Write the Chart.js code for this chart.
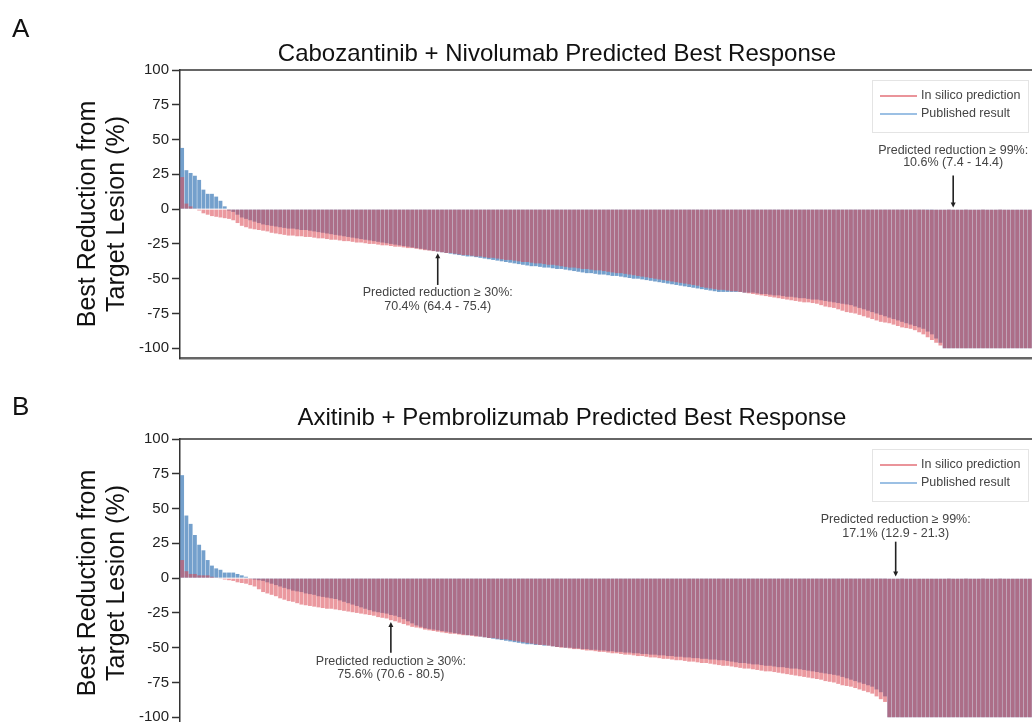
<!DOCTYPE html>
<html>
<head>
<meta charset="utf-8">
<script src="https://cdn.jsdelivr.net/npm/chart.js"></script>
<style>
body{margin:0;width:1032px;height:722px;overflow:hidden;background:#fff;position:relative;font-family:"Liberation Sans",Arial,sans-serif;}
.panel{position:absolute;left:0;width:1032px;height:370px;}
.letter{position:absolute;left:12px;font-size:26px;line-height:26px;color:#111;}
.title{position:absolute;width:700px;text-align:center;font-size:24px;line-height:24px;color:#111;white-space:nowrap;}
</style>
</head>
<body>

<div class="panel" style="top:0px"><canvas id="chartA" width="1032" height="370"></canvas></div>
<div class="panel" style="top:369px"><canvas id="chartB" width="1032" height="370"></canvas></div>

<div class="letter" style="top:15px">A</div>
<div class="title" style="top:41px;left:207px">Cabozantinib + Nivolumab Predicted Best Response</div>
<div class="letter" style="top:393px">B</div>
<div class="title" style="top:405px;left:222px">Axitinib + Pembrolizumab Predicted Best Response</div>

<script>

// Y axis tick labels
const yTicks = [100, 75, 50, 25, 0, -25, -50, -75, -100];

// Panel A - Cabozantinib + Nivolumab, in silico prediction (sorted)
const predA = [
23, 4, 2, 0.5, -1, -3, -4, -5, -5.5, -6,
-6.5, -7, -8, -10, -12, -13, -14, -14.5, -15, -15.5,
-16, -17, -17.5, -18, -18.5, -19, -19, -19.5, -19.5, -20,
-20, -20.5, -21, -21, -21.5, -22, -22, -22.5, -23, -23,
-23.5, -24, -24, -24.5, -25, -25, -25.5, -26, -26, -26.5,
-27, -27, -27.5, -28, -28, -28.5, -29, -29.5, -29.8, -30.2,
-30.5, -31, -31.5, -31.5, -32, -32.5, -33, -33, -33.5, -34,
-34, -34.5, -35, -35, -35.5, -36, -36.5, -36.5, -37, -37.5,
-38, -38, -38.5, -39, -39, -39.5, -40, -40, -40.5, -41,
-41.5, -42, -42, -42.5, -43, -43, -43.5, -44, -44, -44.5,
-45, -45.5, -46, -46, -46.5, -47, -47.5, -48, -48.5, -49,
-49.5, -50, -50.5, -51, -51.5, -52, -52.5, -53, -53.5, -54,
-54.5, -55, -56, -56.5, -57, -57.5, -58, -58, -58.5, -59,
-59, -59.5, -60, -60.5, -61, -61.5, -62, -62.5, -63, -63.5,
-64, -64.5, -65, -65.5, -66, -66.5, -67, -67, -67.5, -68,
-69, -70, -70.5, -71, -72, -73, -74, -74.5, -75, -76,
-77, -78, -79, -80, -81, -81.5, -82, -83, -84, -85,
-85.5, -86, -87, -88.5, -90, -92, -94, -96, -98, -100,
-100, -100, -100, -100, -100, -100, -100, -100, -100, -100,
-100, -100, -100, -100, -100, -100, -100, -100, -100, -100
];

// Panel A - published result
const pubA = [
44, 28, 26, 24, 21, 14, 11, 11, 9, 6,
2, -1, -2, -4, -6, -7, -8, -9, -10, -11,
-11.5, -12, -12.5, -13, -13.5, -14, -14, -14.5, -15, -15,
-15.5, -16, -16.5, -17, -17.5, -18, -18.5, -19, -19.5, -20,
-20.5, -21, -21.5, -22, -22.5, -23, -23.5, -24, -24.5, -25,
-25.5, -26, -26.5, -27, -27.5, -28, -28.5, -29, -29.5, -30,
-30.5, -31, -31.5, -32, -32.5, -33, -33.5, -34, -34, -34.5,
-35, -35.5, -36, -36.5, -37, -37.5, -38, -38.5, -39, -39.5,
-40, -40.5, -41, -41, -41.5, -42, -42, -42.5, -43, -43,
-43.5, -44, -44.5, -45, -45.5, -46, -46, -46.5, -47, -47,
-47.5, -48, -48, -48.5, -49, -49.5, -50, -50, -50.5, -51,
-51.5, -52, -52.5, -53, -53.5, -54, -54.5, -55, -55.5, -56,
-56.5, -57, -57.5, -58, -58.5, -59, -59.5, -59.5, -59.5, -59.5,
-59.5, -59.5, -60, -60, -60, -60.5, -61, -61, -61.5, -62,
-62, -62.5, -63, -63, -63.5, -64, -64, -64.5, -65, -65,
-65.5, -66, -66.5, -67, -67.5, -68, -68.5, -69, -70, -71,
-72, -73, -74, -75, -76, -77, -78, -79, -80, -81,
-82, -83, -84, -85, -86, -88, -90, -93, -96, -100,
-100, -100, -100, -100, -100, -100, -100, -100, -100, -100,
-100, -100, -100, -100, -100, -100, -100, -100, -100, -100
];

// Panel B - Axitinib + Pembrolizumab, in silico prediction (sorted)
const predB = [
13, 5, 3, 3, 2, 2, 2, 1, 0.5, -0.5,
-1, -1.5, -2, -3, -3.5, -4, -5, -6, -8, -10,
-11, -12, -13, -14.5, -15.5, -16.5, -17, -18, -19, -19.5,
-20, -20.5, -21, -21.5, -22, -22, -22.5, -23, -23.5, -24,
-24.5, -25, -25.5, -26, -26.5, -27, -28, -28.5, -29, -30.2,
-31, -32, -33, -34, -35, -35.5, -36, -37, -37.5, -38,
-38.5, -39, -39.5, -40, -40, -40.5, -41, -41, -41.5, -42,
-42, -42.5, -43, -43, -43.5, -44, -44, -44.5, -45, -45.5,
-46, -46.5, -47, -47.5, -48, -48, -48.5, -49, -49.5, -50,
-50, -50.5, -51, -51, -51.5, -52, -52, -52.5, -53, -53,
-53.5, -54, -54, -54.5, -55, -55, -55.5, -56, -56, -56.5,
-57, -57, -57.5, -58, -58, -58.5, -59, -59, -59.5, -60,
-60, -60.5, -61, -61, -61.5, -62, -62.5, -63, -63, -63.5,
-64, -64.5, -65, -65, -65.5, -66, -66.5, -67, -67, -67.5,
-68, -68.5, -69, -69.5, -70, -70.5, -71, -71.5, -72, -72.5,
-73, -74, -74.5, -75, -76, -77, -77.5, -78, -79, -80,
-81, -82, -83, -85, -87, -89, -100, -100, -100, -100,
-100, -100, -100, -100, -100, -100, -100, -100, -100, -100,
-100, -100, -100, -100, -100, -100, -100, -100, -100, -100,
-100, -100, -100, -100, -100, -100, -100, -100, -100, -100
];

// Panel B - published result
const pubB = [
74, 45, 39, 31, 24, 20, 13, 9, 7, 6,
4, 4, 4, 3, 2, 1, -0.5, -1, -1.5, -2,
-3, -4, -5, -6, -7, -8, -9, -9.5, -10, -11,
-11.5, -12, -13, -13.5, -14, -14.5, -15, -16, -17, -18,
-19, -20, -21, -22, -23, -24, -24.5, -25, -25.5, -26.5,
-27, -28, -29.5, -31, -32.5, -34, -35, -36, -36.5, -37,
-37.5, -38, -38.5, -39, -39.5, -40, -40.5, -41, -41, -41.5,
-42, -42.5, -43, -43.5, -44, -44.5, -45, -45.5, -46, -46.5,
-47, -47.5, -47.5, -48, -48, -48.5, -48.5, -49, -49.5, -49.5,
-50, -50, -50.5, -50.5, -51, -51, -51.5, -51.5, -52, -52,
-52.5, -52.5, -53, -53, -53.5, -53.5, -54, -54, -54.5, -54.5,
-55, -55, -55.5, -55.5, -56, -56, -56.5, -56.5, -57, -57,
-57.5, -57.5, -58, -58, -58.5, -58.5, -59, -59, -59.5, -60,
-60.5, -61, -61, -61.5, -62, -62, -62.5, -63, -63, -63.5,
-64, -64, -64.5, -65, -65, -65.5, -66, -66.5, -67, -67.5,
-68, -68.5, -69, -69.5, -70, -71, -72, -73, -74, -75,
-76, -77, -78, -80, -82, -85, -100, -100, -100, -100,
-100, -100, -100, -100, -100, -100, -100, -100, -100, -100,
-100, -100, -100, -100, -100, -100, -100, -100, -100, -100,
-100, -100, -100, -100, -100, -100, -100, -100, -100, -100
];

// one category per virtual patient
const patients = predA.map((v, i) => 'P' + (i + 1));

const seriesNames = ['In silico prediction', 'Published result'];

// Annotations: bar index, text lines, arrow and text heights in axis units
const notesA = [
  {index: 60, lines: ['Predicted reduction \u2265 30%:', '70.4% (64.4 - 75.4)'], arrowFrom: -54.5, arrowTo: -31.8, textAt: [-60.3, -70.1]},
  {index: 181, lines: ['Predicted reduction \u2265 99%:', '10.6% (7.4 - 14.4)'], arrowFrom: 24.2, arrowTo: 1.2, textAt: [41.8, 33.6]}
];
const notesB = [
  {index: 49, lines: ['Predicted reduction \u2265 30%:', '75.6% (70.6 - 80.5)'], arrowFrom: -53.6, arrowTo: -31.5, textAt: [-59.6, -69.3]},
  {index: 167.5, lines: ['Predicted reduction \u2265 99%:', '17.1% (12.9 - 21.3)'], arrowFrom: 26.2, arrowTo: 1.2, textAt: [41.8, 32.4]}
];

const FONT = '"Liberation Sans", Arial, sans-serif';
Chart.defaults.font.family = FONT;

const redFill = 'rgba(218, 70, 80, 0.55)';
const blueFill = 'rgba(62, 124, 184, 0.72)';


// top edge of the plot box
const frameTop = {
  id: 'frameTop',
  afterDraw(chart){
    let a = chart.chartArea;
    let ctx = chart.ctx;
    ctx.save();
    ctx.strokeStyle = '#333';
    ctx.lineWidth = 1.5;
    ctx.beginPath();
    ctx.moveTo(a.left, a.top);
    ctx.lineTo(a.right, a.top);
    ctx.stroke();
    ctx.restore();
  }
};


// legend box inside the plot, top right
const boxLegend = {
  id: 'boxLegend',
  afterDraw(chart){
    let a = chart.chartArea;
    let ctx = chart.ctx;
    let left = a.right - 160;
    let top = a.top + 10;
    let colors = ['rgba(222, 90, 100, 0.65)', 'rgba(90, 150, 210, 0.6)'];
    ctx.save();
    ctx.fillStyle = '#fff';
    ctx.fillRect(left, top, 156, 52);
    ctx.strokeStyle = '#e4e4e4';
    ctx.lineWidth = 1;
    ctx.strokeRect(left + 0.5, top + 0.5, 156, 52);
    ctx.font = '12.5px ' + FONT;
    ctx.textAlign = 'left';
    ctx.textBaseline = 'middle';
    seriesNames.forEach((name, k) => {
      let y = top + 16 + k * 18;
      ctx.strokeStyle = colors[k];
      ctx.lineWidth = 2;
      ctx.beginPath();
      ctx.moveTo(left + 8, y);
      ctx.lineTo(left + 45, y);
      ctx.stroke();
      ctx.fillStyle = '#444';
      ctx.fillText(name, left + 49, y);
    });
    ctx.restore();
  }
};


// arrows with text
const notesPlugin = {
  id: 'notes',
  afterDraw(chart, args, opts){
    let ctx = chart.ctx;
    let xs = chart.scales.x;
    let ys = chart.scales.y;
    ctx.save();
    opts.items.forEach(n => {
      let x = xs.getPixelForValue(n.index);
      let y1 = ys.getPixelForValue(n.arrowFrom);
      let y2 = ys.getPixelForValue(n.arrowTo);
      let dir = y2 > y1 ? 1 : -1;
      ctx.strokeStyle = '#222';
      ctx.fillStyle = '#222';
      ctx.lineWidth = 1.6;
      ctx.beginPath();
      ctx.moveTo(x, y1);
      ctx.lineTo(x, y2 - dir * 3);
      ctx.stroke();
      ctx.beginPath();
      ctx.moveTo(x, y2);
      ctx.lineTo(x - 2.5, y2 - dir * 5);
      ctx.lineTo(x + 2.5, y2 - dir * 5);
      ctx.closePath();
      ctx.fill();
      ctx.font = '12.5px ' + FONT;
      ctx.fillStyle = '#444';
      ctx.textAlign = 'center';
      ctx.textBaseline = 'middle';
      n.lines.forEach((t, k) => ctx.fillText(t, x, ys.getPixelForValue(n.textAt[k])));
    });
    ctx.restore();
  }
};


function makeChart(id, pred, pub, notes){

  let ctx = document.getElementById(id);

  return new Chart(ctx, {

    type: 'bar',

    data: {
      labels: patients,
      datasets: [
        {label: seriesNames[0], data: pred, backgroundColor: redFill, grouped: false, barPercentage: 0.9, categoryPercentage: 1},
        {label: seriesNames[1], data: pub, backgroundColor: blueFill, grouped: false, barPercentage: 0.9, categoryPercentage: 1}
      ]
    },

    options: {
      responsive: false,
      animation: false,
      layout: {padding: {left: 72, top: 70, right: 0, bottom: 12}},
      plugins: {
        legend: {display: false},
        tooltip: {enabled: false},
        notes: {items: notes}
      },
      scales: {
        x: {
          grid: {display: false},
          ticks: {display: false},
          border: {display: true, color: '#666', width: 2.5},
          afterFit: s => { s.height = 0; }
        },
        y: {
          min: -107,
          max: 100,
          afterBuildTicks: s => { s.ticks = yTicks.map(v => ({value: v})); },
          ticks: {font: {size: 15}, color: '#222', padding: 3},
          grid: {drawOnChartArea: false, drawTicks: true, tickLength: 8, tickWidth: 1.5, tickColor: '#333'},
          border: {display: true, color: '#333', width: 1.5},
          title: {
            display: true,
            text: ['Best Reduction from', 'Target Lesion (%)'],
            font: {size: 25, lineHeight: 1.15},
            color: '#111',
            padding: {top: 2, bottom: 0}
          },
          afterFit: s => { s.width = 108; }
        }
      }
    },

    plugins: [frameTop, notesPlugin, boxLegend]

  });

}


makeChart('chartA', predA, pubA, notesA);
makeChart('chartB', predB, pubB, notesB);

</script>
</body>
</html>
